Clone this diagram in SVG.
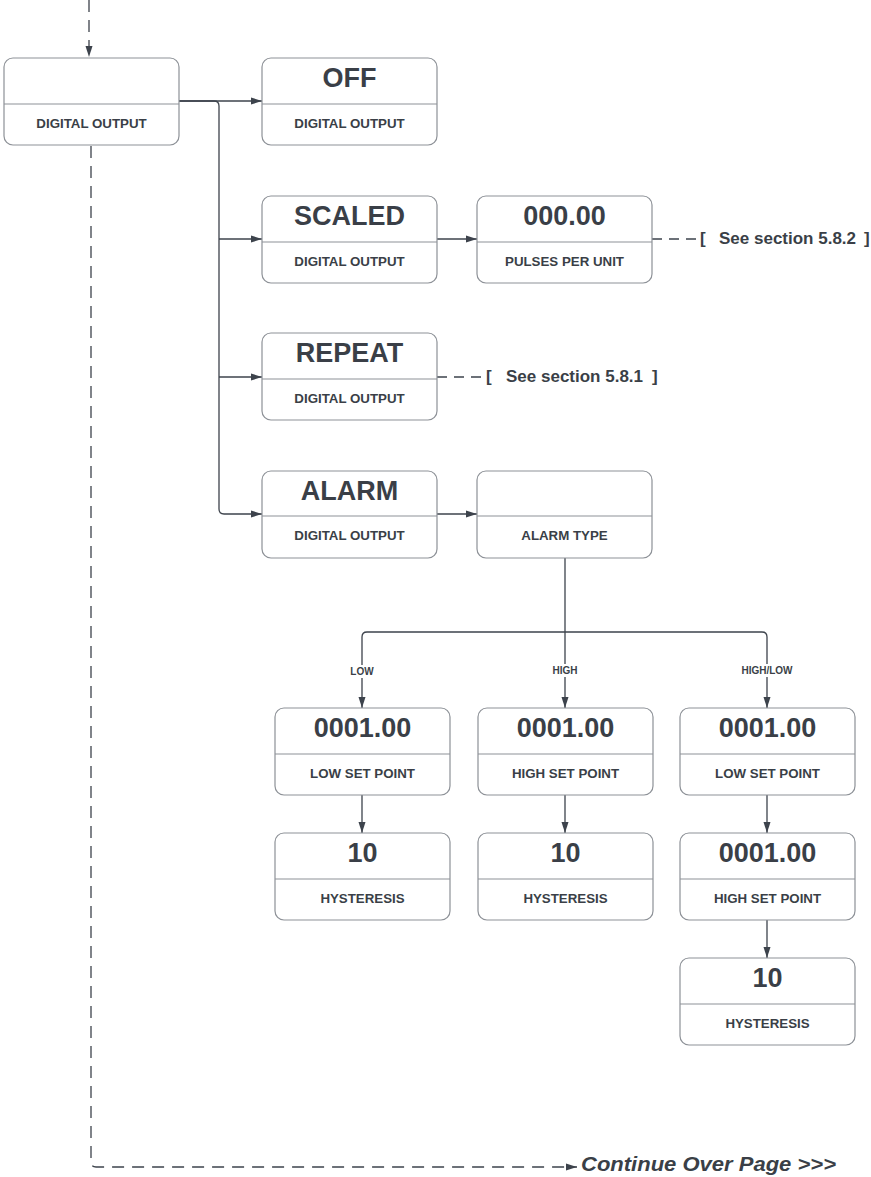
<svg xmlns="http://www.w3.org/2000/svg" width="871" height="1177" viewBox="0 0 871 1177">
<style>
.box{fill:#ffffff;stroke:#8d9197;stroke-width:1.2}
.div{stroke:#8d9197;stroke-width:1.2}
.val{font-family:"Liberation Sans",Arial,sans-serif;font-weight:bold;font-size:27px;fill:#3a3f47;text-anchor:middle}
.lbl{font-family:"Liberation Sans",Arial,sans-serif;font-weight:bold;font-size:13.3px;fill:#3a3f47;text-anchor:middle}
.ref{font-family:"Liberation Sans",Arial,sans-serif;font-weight:bold;font-size:17px;fill:#3a3f47}
.edge{fill:none;stroke:#3d434c;stroke-width:1.3}
.dash{fill:none;stroke:#3d434c;stroke-width:1.3;stroke-dasharray:12 8}
.elab{font-family:"Liberation Sans",Arial,sans-serif;font-weight:bold;font-size:10px;fill:#3a3f47;text-anchor:middle}
.cont{font-family:"Liberation Sans",Arial,sans-serif;font-weight:bold;font-style:italic;font-size:21px;fill:#3a3f47}
</style>
<defs>
<marker id="arr" viewBox="0 0 11 8" refX="11" refY="4" markerWidth="11" markerHeight="8" markerUnits="userSpaceOnUse" orient="auto">
<path d="M0,0.5 L11,4 L0,7.5 z" fill="#3d434c" stroke="none"/>
</marker>
</defs>
<rect width="871" height="1177" fill="#ffffff"/>

<g id="connectors">
<path class="dash" d="M89,0 V57" marker-end="url(#arr)"/>
<path class="dash" d="M91,146 V1162 Q91,1167 96,1167 H577" marker-end="url(#arr)"/>
<path class="edge" d="M179,101 H262" marker-end="url(#arr)"/>
<path class="edge" d="M179,101 H214 Q219,101 219,106 V509 Q219,514 224,514 H262" marker-end="url(#arr)"/>
<path class="edge" d="M219,239 H262" marker-end="url(#arr)"/>
<path class="edge" d="M219,377 H262" marker-end="url(#arr)"/>
<path class="edge" d="M437,239 H477" marker-end="url(#arr)"/>
<path class="edge" d="M437,514 H477" marker-end="url(#arr)"/>
<path class="dash" d="M652,239 H697" style="stroke-dasharray:10 7"/>
<path class="dash" d="M437,377 H483" style="stroke-dasharray:10 7"/>
<path class="edge" d="M565,558 V632"/>
<path class="edge" d="M565,632 H367 Q362,632 362,637 V708" marker-end="url(#arr)"/>
<path class="edge" d="M565,632 V708" marker-end="url(#arr)"/>
<path class="edge" d="M565,632 H762 Q767,632 767,637 V708" marker-end="url(#arr)"/>
<path class="edge" d="M362,795 V833" marker-end="url(#arr)"/>
<path class="edge" d="M565,795 V833" marker-end="url(#arr)"/>
<path class="edge" d="M767,795 V833" marker-end="url(#arr)"/>
<path class="edge" d="M767,920 V958" marker-end="url(#arr)"/>
<rect x="346" y="665" width="32" height="13" fill="#ffffff"/>
<text class="elab" x="362" y="675">LOW</text>
<rect x="550" y="664" width="30" height="13" fill="#ffffff"/>
<text class="elab" x="565" y="674">HIGH</text>
<rect x="738" y="664" width="58" height="13" fill="#ffffff"/>
<text class="elab" x="767" y="674">HIGH/LOW</text>
<text class="ref" x="700" y="244">[<tspan x="719">See section 5.8.2</tspan><tspan x="864">]</tspan></text>
<text class="ref" x="486" y="382">[<tspan x="506">See section 5.8.1</tspan><tspan x="652">]</tspan></text>
<text class="cont" x="581" y="1171" textLength="255" lengthAdjust="spacingAndGlyphs">Continue Over Page &gt;&gt;&gt;</text>
</g>

<g id="node-main">
<rect class="box" x="4" y="58" width="175" height="87" rx="9"/>
<line class="div" x1="4" y1="104" x2="179" y2="104"/>
<text class="lbl" x="91.5" y="128">DIGITAL OUTPUT</text>
</g>
<g id="node-off">
<rect class="box" x="262" y="58" width="175" height="87" rx="9"/>
<line class="div" x1="262" y1="104" x2="437" y2="104"/>
<text class="val" x="349.5" y="87">OFF</text>
<text class="lbl" x="349.5" y="128">DIGITAL OUTPUT</text>
</g>
<g id="node-scaled">
<rect class="box" x="262" y="196" width="175" height="87" rx="9"/>
<line class="div" x1="262" y1="242" x2="437" y2="242"/>
<text class="val" x="349.5" y="225">SCALED</text>
<text class="lbl" x="349.5" y="266">DIGITAL OUTPUT</text>
</g>
<g id="node-pulses">
<rect class="box" x="477" y="196" width="175" height="87" rx="9"/>
<line class="div" x1="477" y1="242" x2="652" y2="242"/>
<text class="val" x="564.5" y="225">000.00</text>
<text class="lbl" x="564.5" y="266">PULSES PER UNIT</text>
</g>
<g id="node-repeat">
<rect class="box" x="262" y="333" width="175" height="87" rx="9"/>
<line class="div" x1="262" y1="379" x2="437" y2="379"/>
<text class="val" x="349.5" y="362">REPEAT</text>
<text class="lbl" x="349.5" y="403">DIGITAL OUTPUT</text>
</g>
<g id="node-alarm">
<rect class="box" x="262" y="471" width="175" height="87" rx="9"/>
<line class="div" x1="262" y1="516" x2="437" y2="516"/>
<text class="val" x="349.5" y="500">ALARM</text>
<text class="lbl" x="349.5" y="540">DIGITAL OUTPUT</text>
</g>
<g id="node-alarmtype">
<rect class="box" x="477" y="471" width="175" height="87" rx="9"/>
<line class="div" x1="477" y1="516" x2="652" y2="516"/>
<text class="lbl" x="564.5" y="540">ALARM TYPE</text>
</g>
<g id="node-low-sp">
<rect class="box" x="275" y="708" width="175" height="87" rx="9"/>
<line class="div" x1="275" y1="754" x2="450" y2="754"/>
<text class="val" x="362.5" y="737">0001.00</text>
<text class="lbl" x="362.5" y="778">LOW SET POINT</text>
</g>
<g id="node-low-hys">
<rect class="box" x="275" y="833" width="175" height="87" rx="9"/>
<line class="div" x1="275" y1="879" x2="450" y2="879"/>
<text class="val" x="362.5" y="862">10</text>
<text class="lbl" x="362.5" y="903">HYSTERESIS</text>
</g>
<g id="node-high-sp">
<rect class="box" x="478" y="708" width="175" height="87" rx="9"/>
<line class="div" x1="478" y1="754" x2="653" y2="754"/>
<text class="val" x="565.5" y="737">0001.00</text>
<text class="lbl" x="565.5" y="778">HIGH SET POINT</text>
</g>
<g id="node-high-hys">
<rect class="box" x="478" y="833" width="175" height="87" rx="9"/>
<line class="div" x1="478" y1="879" x2="653" y2="879"/>
<text class="val" x="565.5" y="862">10</text>
<text class="lbl" x="565.5" y="903">HYSTERESIS</text>
</g>
<g id="node-hl-low-sp">
<rect class="box" x="680" y="708" width="175" height="87" rx="9"/>
<line class="div" x1="680" y1="754" x2="855" y2="754"/>
<text class="val" x="767.5" y="737">0001.00</text>
<text class="lbl" x="767.5" y="778">LOW SET POINT</text>
</g>
<g id="node-hl-high-sp">
<rect class="box" x="680" y="833" width="175" height="87" rx="9"/>
<line class="div" x1="680" y1="879" x2="855" y2="879"/>
<text class="val" x="767.5" y="862">0001.00</text>
<text class="lbl" x="767.5" y="903">HIGH SET POINT</text>
</g>
<g id="node-hl-hys">
<rect class="box" x="680" y="958" width="175" height="87" rx="9"/>
<line class="div" x1="680" y1="1004" x2="855" y2="1004"/>
<text class="val" x="767.5" y="987">10</text>
<text class="lbl" x="767.5" y="1028">HYSTERESIS</text>
</g>
</svg>
